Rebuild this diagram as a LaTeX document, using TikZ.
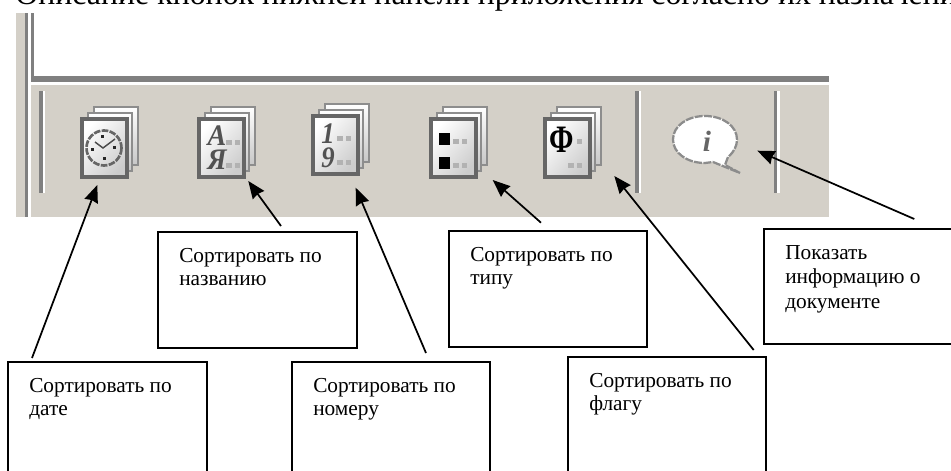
\documentclass[tikz,border=0pt]{standalone}
\usepackage{fontspec}
\setmainfont{Liberation Serif}
\usetikzlibrary{arrows.meta}
\definecolor{panel}{HTML}{D4D0C8}
\definecolor{rim}{HTML}{808080}
\tikzset{
  x=0.75pt,y=-0.75pt,
  callbox/.style={draw=black,line width=1.25pt,anchor=north west,inner sep=0pt,outer sep=0pt},
  calltext/.style={anchor=north west,inner sep=0pt,align=left,font=\fontsize{16}{17.3}\selectfont},
  callarrow/.style={line width=1.3pt,-{Stealth[length=13pt,width=10.5pt,inset=1pt]}},
  pageback/.style={draw=rim!90!white,line width=2.2pt,top color=white,bottom color=black!22},
  pagefront/.style={draw=black!60,line width=2.3pt,left color=white,right color=black!20,shading angle=50},
  sepdark/.style={fill=rim},
  seplight/.style={fill=white},
  dotg/.style={fill=black!30},
  glyph/.style={inner sep=0pt,text=black!68,font=\fontsize{20}{20}\selectfont\bfseries\itshape},
}
\newcommand{\stack}[2]{%
  \path[pageback] (#1+12,#2-11) rectangle (#1+56,#2+47);
  \path[pageback] (#1+6,#2-5) rectangle (#1+50,#2+53);
  \path[pagefront] (#1,#2+1) rectangle (#1+45,#2+59);
}
\newcommand{\gdots}[2]{%
  \fill[dotg] (#1,#2-2.5) rectangle (#1+5.5,#2+2.5);
  \fill[dotg] (#1+8.5,#2-2.5) rectangle (#1+14,#2+2.5);
}
\newcommand{\callout}[6]{%
  \node[callbox,minimum width=#4*0.75pt,minimum height=#5*0.75pt] (#1) at (#2,#3) {};
  \node[calltext] (#1text) at (#2+21,#3+16) {#6};
}
\begin{document}
\begin{tikzpicture}
\useasboundingbox (0,0) rectangle (951,471);
\fill[white] (0,0) rectangle (951,471);
\node[anchor=base west,inner sep=0pt,font=\fontsize{23.9}{28}\selectfont] (title) at (15,5) {Описание кнопок нижней панели приложения согласно их назначению};
% window
\fill[panel] (16,13) rectangle (31,217);
\fill[panel] (16,85) rectangle (829,217);
\fill[rim] (25,13) rectangle (28,217);
\fill[white] (28,13) rectangle (31,217);
\fill[rim] (31,13) rectangle (34,82);
\fill[rim] (31,76) rectangle (829,82);
% separators
\fill[sepdark] (39,91) rectangle (42.5,193);
\fill[seplight] (42.5,91) rectangle (45,193);
\fill[seplight] (635,91) rectangle (641,193);
\fill[sepdark] (635,91) rectangle (638.5,193);
\fill[sepdark] (773.5,91) rectangle (777,193);
\fill[seplight] (777,91) rectangle (779.5,193);
% icons
\stack{82}{118}
\stack{199}{118}
\stack{313}{115}
\stack{431}{118}
\stack{545}{118}
% clock
\draw[black!60,line width=2pt,dash pattern=on 5pt off 1pt] (104,148) circle (17.5);
\draw[black!70,line width=1.1pt] (95,142) -- (103,148) -- (115,139);
\fill[black!85] (101,135) rectangle (104,138);
\fill[black!85] (113,146) rectangle (116,149);
\fill[black!85] (103,157) rectangle (106,160);
\fill[black!85] (91,148) rectangle (94,151);
% sort by name glyphs
\node[glyph,anchor=base] (gA) at (217,145) {\scalebox{1.05}[1.12]{A}};
\node[glyph,anchor=base] (gYa) at (217,169.5) {\scalebox{1.05}[1.12]{Я}};
\gdots{226}{142}
\gdots{226}{165.5}
% sort by number glyphs
\node[glyph,anchor=base] (gOne) at (328,143) {\scalebox{1}[1.12]{1}};
\node[glyph,anchor=base] (gNine) at (328,167.5) {\scalebox{1}[1.12]{9}};
\gdots{337}{138}
\gdots{337}{162}
% sort by type glyphs
\fill[black] (439,133) rectangle (450,145);
\fill[black] (439,157) rectangle (450,169);
\gdots{453}{141.5}
\gdots{453}{165.5}
% sort by flag glyphs
\node[inner sep=0pt,anchor=base,text=black,font=\fontsize{26}{26}\selectfont\bfseries] (gPhi) at (562,152) {\scalebox{.85}[1.12]{Φ}};
\fill[dotg] (577,139) rectangle (582,144);
\gdots{568}{165.5}
% info balloon
\path[fill=white,draw=black!45,line width=1.7pt,dash pattern=on 6pt off 1pt]
  (713,162) -- (740,173) -- (725,165) -- (728,157)
  .. controls (734,152) and (737,146) .. (737,139.5)
  .. controls (737,126) and (723,116) .. (705,116)
  .. controls (687,116) and (673,126) .. (673,139.5)
  .. controls (673,153) and (687,163) .. (705,163) -- cycle;
\node[inner sep=0pt,anchor=base,text=black!60,font=\fontsize{22}{22}\selectfont\bfseries\itshape] (gInfo) at (707,151) {i};
% callouts
\callout{bdate}{8}{362}{199}{130}{Сортировать по\\дате}
\callout{bname}{158}{232}{199}{116}{Сортировать по\\названию}
\callout{bnum}{292}{362}{198}{130}{Сортировать по\\номеру}
\callout{btype}{449}{231}{198}{116}{Сортировать по\\типу}
\callout{bflag}{568}{357}{198}{130}{Сортировать по\\флагу}
\node[callbox,minimum width=240*0.75pt,minimum height=115*0.75pt] (binfo) at (764,229) {};
\node[calltext,font=\fontsize{16}{18.3}\selectfont] (binfotext) at (785,245) {Показать\\информацию о\\документе};
% connectors
\coordinate (tailDate) at (32,358);   \coordinate (tipDate) at (97.3,185);
\coordinate (tailName) at (281,226);  \coordinate (tipName) at (248.3,181);
\coordinate (tailNum) at (426,353);   \coordinate (tipNum) at (355.7,187.7);
\coordinate (tailType) at (541,222.7);\coordinate (tipType) at (492.7,180);
\coordinate (tailFlag) at (753.7,350);\coordinate (tipFlag) at (614.3,176);
\coordinate (tailInfo) at (914.3,219);\coordinate (tipInfo) at (757.3,150.7);
\draw[callarrow] (tailDate) -- (tipDate);
\draw[callarrow] (tailName) -- (tipName);
\draw[callarrow] (tailNum) -- (tipNum);
\draw[callarrow] (tailType) -- (tipType);
\draw[callarrow] (tailFlag) -- (tipFlag);
\draw[callarrow] (tailInfo) -- (tipInfo);
\end{tikzpicture}
\end{document}
